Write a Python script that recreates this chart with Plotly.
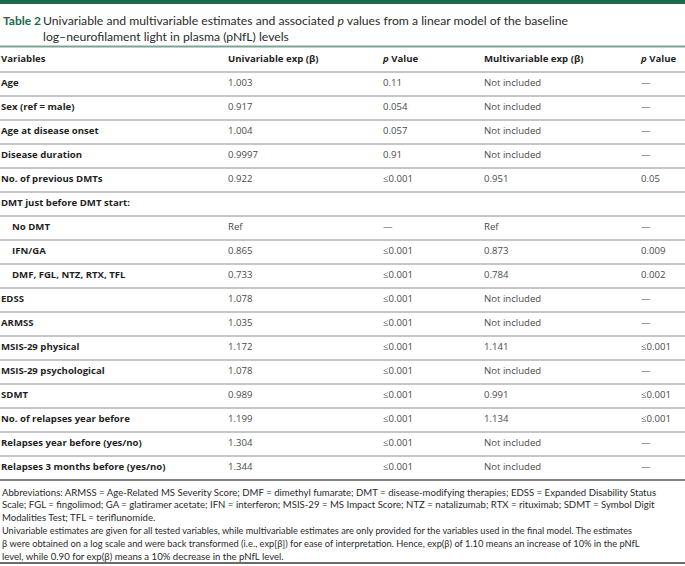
import plotly.graph_objects as go

# ---------------- data ----------------
variables = ["Age", "Sex (ref = male)", "Age at disease onset", "Disease duration",
             "No. of previous DMTs", "DMT just before DMT start:", "No DMT", "IFN/GA",
             "DMF, FGL, NTZ, RTX, TFL", "EDSS", "ARMSS", "MSIS-29 physical",
             "MSIS-29 psychological", "SDMT", "No. of relapses year before",
             "Relapses year before (yes/no)", "Relapses 3 months before (yes/no)"]
indented = [0, 0, 0, 0, 0, 0, 1, 1, 1, 0, 0, 0, 0, 0, 0, 0, 0]
univariable = ["1.003", "0.917", "1.004", "0.9997", "0.922", "", "Ref", "0.865", "0.733",
               "1.078", "1.035", "1.172", "1.078", "0.989", "1.199", "1.304", "1.344"]
p_univariable = ["0.11", "0.054", "0.057", "0.91", "≤0.001", "", "—", "≤0.001", "≤0.001",
                 "≤0.001", "≤0.001", "≤0.001", "≤0.001", "≤0.001", "≤0.001", "≤0.001", "≤0.001"]
multivariable = ["Not included", "Not included", "Not included", "Not included", "0.951", "",
                 "Ref", "0.873", "0.784", "Not included", "Not included", "1.141",
                 "Not included", "0.991", "1.134", "Not included", "Not included"]
p_multivariable = ["—", "—", "—", "—", "0.05", "", "—", "0.009", "0.002", "—", "—",
                   "≤0.001", "—", "≤0.001", "≤0.001", "—", "—"]
headers = ["Variables", "Univariable exp (β)", "<i>p</i> Value", "Multivariable exp (β)", "<i>p</i> Value"]

title_label = "Table 2"
title_lines = ["Univariable and multivariable estimates and associated <i>p</i> values from a linear model of the baseline",
               "log–neurofilament light in plasma (pNfL) levels"]
footnote_lines = [
    "Abbreviations: ARMSS = Age-Related MS Severity Score; DMF = dimethyl fumarate; DMT = disease-modifying therapies; EDSS = Expanded Disability Status",
    "Scale; FGL = fingolimod; GA = glatiramer acetate; IFN = interferon; MSIS-29 = MS Impact Score; NTZ = natalizumab; RTX = rituximab; SDMT = Symbol Digit",
    "Modalities Test; TFL = teriflunomide.",
    "Univariable estimates are given for all tested variables, while multivariable estimates are only provided for the variables used in the final model. The estimates",
    "β were obtained on a log scale and were back transformed (i.e., exp[β]) for ease of interpretation. Hence, exp(β) of 1.10 means an increase of 10% in the pNfL",
    "level, while 0.90 for exp(β) means a 10% decrease in the pNfL level.",
]
footnote_sizes = [9.6, 9.6, 9.6, 9.2, 9.3, 9.6]

# ---------------- layout constants ----------------
W, H = 685, 566
GREEN = "#1b6b4b"
COL_X = [1, 228, 383, 484, 641]
INDENT = 11
HEADER_Y = 60
ROW0_Y = 84
ROW_H = 24
BODY_FONT = "Open Sans, sans-serif"
NARROW_FONT = "Lato, sans-serif"
LABEL_COLOR = "#1f1f1f"
VALUE_COLOR = "#4a4a4a"

n = len(variables)
row_y = [ROW0_Y + ROW_H * i for i in range(n)]

fig = go.Figure()

# header row
fig.add_trace(go.Scatter(
    x=COL_X, y=[HEADER_Y] * len(COL_X), mode="text",
    text=[f"<b>{h}</b>" for h in headers], textposition="middle right",
    textfont=dict(family=BODY_FONT, size=9.6, color=LABEL_COLOR),
    hoverinfo="skip", showlegend=False))

# variable labels
fig.add_trace(go.Scatter(
    x=[COL_X[0] + INDENT * k for k in indented], y=row_y, mode="text",
    text=[f"<b>{v}</b>" for v in variables], textposition="middle right",
    textfont=dict(family=BODY_FONT, size=9.6, color=LABEL_COLOR),
    hoverinfo="skip", showlegend=False))

# value columns
for col, vals in zip(COL_X[1:], [univariable, p_univariable, multivariable, p_multivariable]):
    fig.add_trace(go.Scatter(
        x=[col] * n, y=row_y, mode="text", text=vals, textposition="middle right",
        textfont=dict(family=BODY_FONT, size=9.6, color=VALUE_COLOR),
        hoverinfo="skip", showlegend=False))

shapes = []
shapes.append(dict(type="rect", xref="paper", yref="y", x0=0, x1=1, y0=0, y1=4,
                   fillcolor=GREEN, line=dict(width=0)))
shapes.append(dict(type="line", xref="paper", yref="y", x0=0, x1=1, y0=46.5, y1=46.5,
                   line=dict(color="#7aa595", width=2)))
for y in [HEADER_Y + 12] + [r + 12 for r in row_y[:-1]]:
    shapes.append(dict(type="line", xref="paper", yref="y", x0=0, x1=1, y0=y, y1=y,
                       line=dict(color="#8e8e8e", width=1.2)))
last = row_y[-1] + 12
shapes.append(dict(type="line", xref="paper", yref="y", x0=0, x1=1, y0=last, y1=last,
                   line=dict(color="#5a5a5a", width=1.5)))
shapes.append(dict(type="line", xref="paper", yref="y", x0=0, x1=1, y0=563, y1=563,
                   line=dict(color="#3a3a3a", width=1.5)))

annotations = []
annotations.append(dict(x=1, y=20, xref="x", yref="y", xanchor="left", yanchor="middle",
                        text=f"<b>{title_label}</b>", showarrow=False,
                        font=dict(family=NARROW_FONT, size=12, color=GREEN)))
for k, line in enumerate(title_lines):
    annotations.append(dict(x=41, y=20 + 16 * k, xref="x", yref="y", xanchor="left",
                            yanchor="middle", text=line, showarrow=False,
                            font=dict(family=NARROW_FONT, size=12.2, color="#2a2a2a")))
for k, (line, sz) in enumerate(zip(footnote_lines, footnote_sizes)):
    annotations.append(dict(x=0, y=492 + 12.8 * k, xref="x", yref="y", xanchor="left",
                            yanchor="middle", text=line, showarrow=False,
                            font=dict(family=NARROW_FONT, size=sz, color="#2a2a2a")))

fig.update_layout(
    width=W, height=H, margin=dict(l=0, r=0, t=0, b=0),
    paper_bgcolor="white", plot_bgcolor="white",
    xaxis=dict(range=[0, W], visible=False, fixedrange=True),
    yaxis=dict(range=[H, 0], visible=False, fixedrange=True),
    shapes=shapes, annotations=annotations,
)

fig.write_html("out.html", config={"displayModeBar": False},
               post_script="document.body.style.margin='0';document.body.style.overflow='hidden';")
